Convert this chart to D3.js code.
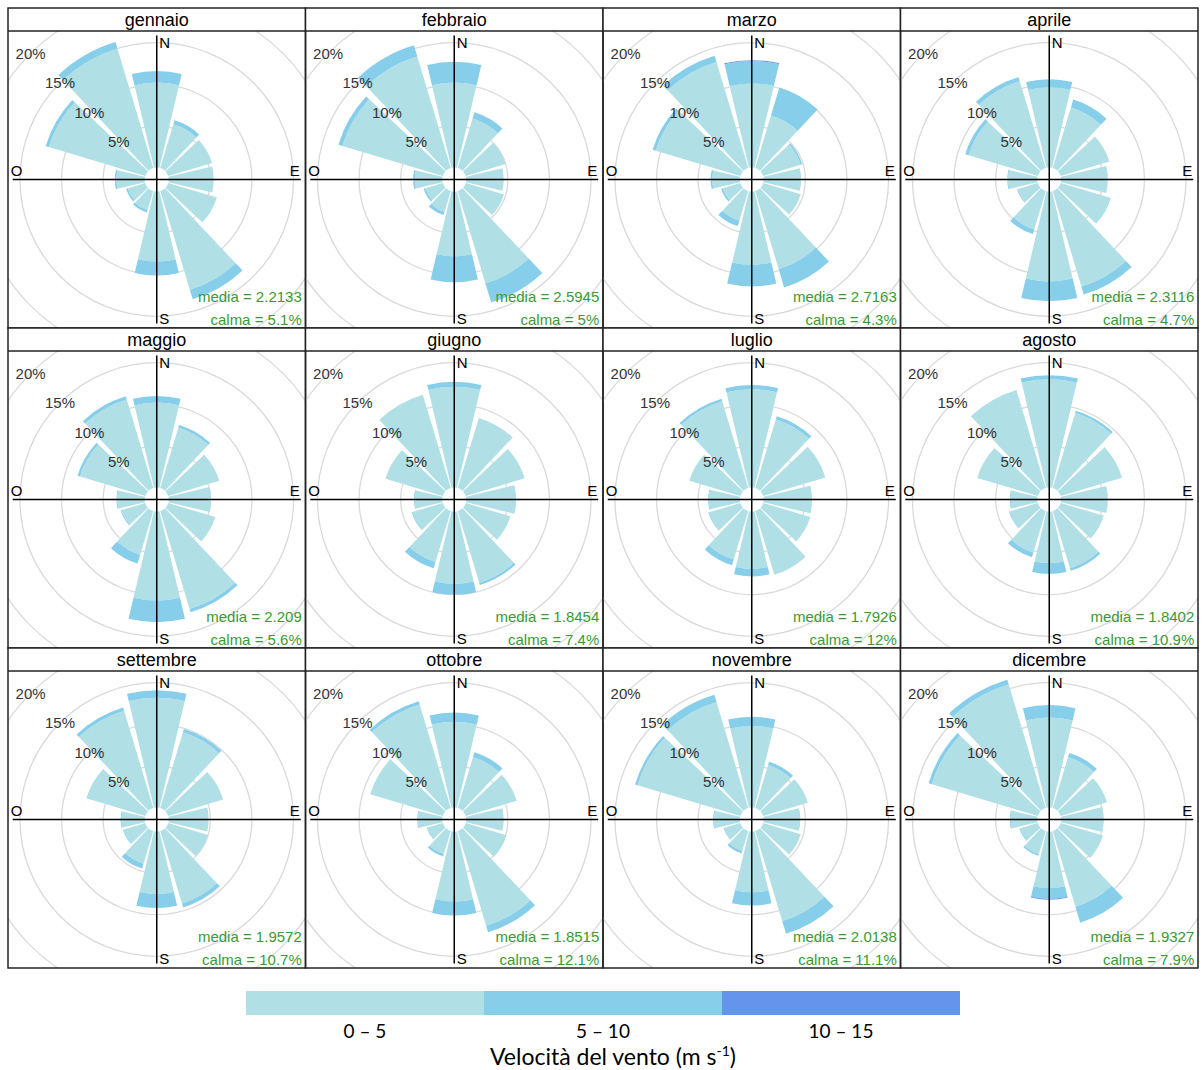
<!DOCTYPE html>
<html>
<head>
<meta charset="utf-8">
<script src="https://cdn.jsdelivr.net/npm/d3@7"></script>
<style>
  body { margin: 0; background: #fff; }
  svg { display: block; font-family: 'Liberation Sans', Arial, sans-serif; }
</style>
</head>
<body>
<div id="chart"></div>
<script>
// --- data ---
const months = ['gennaio', 'febbraio', 'marzo', 'aprile', 'maggio', 'giugno',
  'luglio', 'agosto', 'settembre', 'ottobre', 'novembre', 'dicembre'];

// wind direction sectors (degrees, clockwise from N)
const directions = [0, 30, 60, 90, 120, 150, 180, 210, 240, 270, 300, 330];

// frequency (%) per month and sector, speed 0-5 m/s
const freq0to5 = [
  [10.2, 5.5, 5.5, 5.4, 6.1, 12.4, 8.4, 2.4, 2.2, 3.4, 12.1, 15.0],
  [10.2, 6.2, 5.0, 4.5, 4.8, 11.6, 7.8, 2.6, 2.2, 3.3, 12.6, 14.0],
  [10.1, 6.6, 4.7, 4.5, 4.7, 9.8, 8.8, 3.7, 2.2, 3.3, 10.6, 13.3],
  [9.6, 7.6, 6.1, 5.6, 6.3, 12.0, 10.8, 4.8, 2.5, 3.5, 8.7, 10.9],
  [10.2, 7.6, 6.4, 5.1, 5.9, 12.3, 10.7, 5.5, 3.0, 3.3, 8.2, 11.1],
  [12.1, 8.8, 7.4, 6.0, 5.6, 9.0, 8.7, 6.4, 3.8, 3.3, 7.2, 11.7],
  [11.8, 8.6, 7.8, 5.8, 5.9, 8.0, 6.9, 6.1, 3.9, 3.7, 6.4, 10.9],
  [13.0, 9.4, 7.7, 5.6, 5.4, 7.2, 6.2, 5.2, 3.5, 3.2, 7.6, 12.3],
  [13.2, 9.5, 6.9, 4.8, 5.0, 9.1, 7.5, 4.1, 2.7, 2.8, 7.4, 12.2],
  [10.3, 6.4, 6.4, 4.5, 5.1, 11.9, 8.4, 2.9, 1.9, 2.9, 9.1, 13.0],
  [9.8, 5.4, 5.6, 4.4, 4.7, 11.3, 7.3, 2.5, 2.0, 3.1, 12.9, 13.3],
  [10.8, 6.4, 5.8, 5.1, 5.3, 9.5, 6.8, 2.9, 2.2, 3.2, 13.3, 15.5]
];

// speed 5-10 m/s
const freq5to10 = [
  [1.4, 0.5, 0, 0, 0, 1.2, 1.7, 0.3, 0.2, 0.2, 0.4, 0.8],
  [2.5, 0.8, 0, 0, 0, 2.4, 3.1, 0.4, 0.2, 0.2, 0.5, 1.4],
  [2.7, 3.5, 0.2, 0, 0, 2.3, 2.6, 0.7, 0.2, 0.2, 0.4, 0.8],
  [1.0, 1.0, 0, 0, 0, 1.0, 2.4, 0.6, 0.1, 0.1, 0.4, 0.5],
  [0.8, 0.3, 0, 0, 0, 0.4, 2.6, 1.1, 0.1, 0.1, 0.3, 0.4],
  [0.6, 0, 0, 0, 0, 0.3, 1.3, 0.8, 0.1, 0.1, 0, 0],
  [0.5, 0.4, 0, 0, 0, 0, 0.9, 0.7, 0.1, 0.1, 0, 0.3],
  [0.5, 0.3, 0, 0, 0, 0.3, 1.3, 0.6, 0.1, 0.1, 0, 0],
  [0.9, 0.4, 0, 0, 0, 0.5, 1.7, 0.6, 0.1, 0.1, 0, 0.4],
  [1.1, 0.6, 0, 0, 0, 0.8, 1.7, 0.3, 0.1, 0.1, 0, 0.4],
  [1.1, 0.4, 0, 0, 0, 1.6, 1.6, 0.3, 0.1, 0.1, 0.3, 0.9],
  [1.5, 0.5, 0, 0, 0, 2.0, 1.3, 0.2, 0.1, 0.1, 0.4, 0.6]
];

// speed 10-15 m/s
const freq10to15 = [
  [0, 0, 0, 0, 0, 0, 0, 0, 0, 0, 0, 0],
  [0, 0, 0, 0, 0, 0, 0, 0, 0, 0, 0, 0],
  [0.1, 0, 0, 0, 0, 0, 0, 0, 0, 0, 0, 0],
  [0, 0, 0, 0, 0, 0, 0, 0, 0, 0, 0, 0],
  [0, 0, 0, 0, 0, 0, 0, 0, 0, 0, 0, 0],
  [0, 0, 0, 0, 0, 0, 0, 0, 0, 0, 0, 0],
  [0, 0, 0, 0, 0, 0, 0, 0, 0, 0, 0, 0],
  [0, 0, 0, 0, 0, 0, 0, 0, 0, 0, 0, 0],
  [0, 0, 0, 0, 0, 0, 0, 0, 0, 0, 0, 0],
  [0, 0, 0, 0, 0, 0, 0, 0, 0, 0, 0, 0],
  [0, 0, 0, 0, 0, 0, 0, 0, 0, 0, 0, 0],
  [0, 0, 0, 0, 0, 0, 0.1, 0, 0, 0, 0, 0]
];

const means = [2.2133, 2.5945, 2.7163, 2.3116, 2.209, 1.8454, 1.7926, 1.8402, 1.9572, 1.8515, 2.0138, 1.9327];
const calms = [5.1, 5, 4.3, 4.7, 5.6, 7.4, 12, 10.9, 10.7, 12.1, 11.1, 7.9];

const ringTicks = [5, 10, 15, 20];
const speedBins = ['0 – 5', '5 – 10', '10 – 15'];
const binColors = ['#b0e0e6', '#87ceeb', '#6495ed'];

// --- layout ---
const width = 1202;
const height = 1070;
const gridLeft = 8;
const gridTop = 8;
const colW = 297.5;
const rowH = 320;
const stripH = 23;
const plotH = rowH - stripH;

const svg = d3.select('#chart')
  .append('svg')
  .attr('width', width)
  .attr('height', height);

svg.append('rect').attr('width', width).attr('height', height).attr('fill', '#fff');

// radius in px for a frequency in %
const r = d3.scaleLinear().domain([0, 20]).range([12, 178.4]);
const halfWedge = 13.3 * Math.PI / 180;
const axisLen = 144;

const arc = d3.arc();

months.forEach((month, i) => {
  const col = i % 4;
  const row = Math.floor(i / 4);
  const x0 = gridLeft + col * colW;
  const y0 = gridTop + row * rowH;
  const cx = x0 + colW / 2;
  const cy = y0 + stripH + plotH / 2;

  const panel = svg.append('g');

  const clipId = 'clip' + i;
  panel.append('clipPath').attr('id', clipId)
    .append('rect')
    .attr('x', x0).attr('y', y0 + stripH)
    .attr('width', colW).attr('height', plotH);

  // strip
  panel.append('rect')
    .attr('x', x0).attr('y', y0)
    .attr('width', colW).attr('height', stripH)
    .attr('fill', '#fff');
  panel.append('text')
    .attr('x', cx).attr('y', y0 + stripH / 2)
    .attr('text-anchor', 'middle')
    .attr('dominant-baseline', 'central')
    .style('font-size', '18px')
    .text(month);

  const g = panel.append('g')
    .attr('clip-path', `url(#${clipId})`)
    .append('g')
    .attr('transform', `translate(${cx},${cy})`);

  // rings
  g.selectAll('circle.ring')
    .data(ringTicks)
    .enter()
    .append('circle')
    .attr('r', (d) => r(d))
    .attr('fill', 'none')
    .attr('stroke', '#d9d9d9')
    .attr('stroke-width', 1.3);

  // stacked wedges
  const stacks = directions.map((dir, j) => {
    const a = freq0to5[i][j];
    const b = freq5to10[i][j];
    const c = freq10to15[i][j];
    return [[0, a], [a, a + b], [a + b, a + b + c]].map((seg, k) => ({ dir, lo: seg[0], hi: seg[1], k }));
  }).flat().filter((d) => d.hi > d.lo);

  g.selectAll('path.wedge')
    .data(stacks)
    .enter()
    .append('path')
    .attr('fill', (d) => binColors[d.k])
    .attr('d', (d) => arc({
      innerRadius: r(d.lo),
      outerRadius: r(d.hi),
      startAngle: d.dir * Math.PI / 180 - halfWedge,
      endAngle: d.dir * Math.PI / 180 + halfWedge
    }));

  // axes
  g.append('line').attr('x1', -axisLen).attr('x2', axisLen).attr('y1', 0).attr('y2', 0)
    .attr('stroke', '#000').attr('stroke-width', 1.5);
  g.append('line').attr('x1', 0).attr('x2', 0).attr('y1', -axisLen).attr('y2', axisLen)
    .attr('stroke', '#000').attr('stroke-width', 1.5);

  // compass letters
  const compass = [
    { t: 'N', x: 2.5, y: -132, anchor: 'start' },
    { t: 'S', x: 2.5, y: 144, anchor: 'start' },
    { t: 'O', x: -146, y: -4, anchor: 'start' },
    { t: 'E', x: 143, y: -4, anchor: 'end' }
  ];
  g.selectAll('text.compass')
    .data(compass)
    .enter()
    .append('text')
    .attr('x', (d) => d.x).attr('y', (d) => d.y)
    .attr('text-anchor', (d) => d.anchor)
    .style('font-size', '15px')
    .text((d) => d.t);

  // percent labels along NW diagonal
  g.selectAll('text.pct')
    .data(ringTicks)
    .enter()
    .append('text')
    .attr('x', (d) => -r(d) * Math.SQRT1_2)
    .attr('y', (d) => -r(d) * Math.SQRT1_2)
    .attr('text-anchor', 'middle')
    .attr('dominant-baseline', 'central')
    .attr('fill', '#333')
    .style('font-size', '15px')
    .text((d) => d + '%');

  // mean & calm
  g.append('text')
    .attr('x', 145).attr('y', 122)
    .attr('text-anchor', 'end')
    .attr('fill', '#3a9a33')
    .style('font-size', '15px')
    .text('media = ' + means[i]);
  g.append('text')
    .attr('x', 145).attr('y', 145)
    .attr('text-anchor', 'end')
    .attr('fill', '#3a9a33')
    .style('font-size', '15px')
    .text('calma = ' + calms[i] + '%');

  // borders
  panel.append('rect')
    .attr('x', x0).attr('y', y0)
    .attr('width', colW).attr('height', rowH)
    .attr('fill', 'none').attr('stroke', '#222').attr('stroke-width', 1.5);
  panel.append('line')
    .attr('x1', x0).attr('x2', x0 + colW)
    .attr('y1', y0 + stripH).attr('y2', y0 + stripH)
    .attr('stroke', '#222').attr('stroke-width', 1.5);
});

// --- legend ---
const legendX = d3.scaleBand().domain(speedBins).range([246, 960]);

const legend = svg.append('g').style('font-family', 'Lato, "Open Sans", sans-serif');

legend.selectAll('rect')
  .data(speedBins)
  .enter()
  .append('rect')
  .attr('x', (d) => legendX(d))
  .attr('y', 991)
  .attr('width', legendX.bandwidth())
  .attr('height', 24)
  .attr('fill', (d, i) => binColors[i]);

legend.selectAll('text.bin')
  .data(speedBins)
  .enter()
  .append('text')
  .attr('x', (d) => legendX(d) + legendX.bandwidth() / 2)
  .attr('y', 1038)
  .attr('text-anchor', 'middle')
  .style('font-size', '19px')
  .text((d) => d);

const title = legend.append('text')
  .attr('x', 613)
  .attr('y', 1065)
  .attr('text-anchor', 'middle')
  .style('font-size', '23px');
title.append('tspan').text('Velocità del vento (m s');
title.append('tspan').attr('dy', -9).style('font-size', '14px').text('-1');
title.append('tspan').attr('dy', 9).text(')');
</script>
</body>
</html>
